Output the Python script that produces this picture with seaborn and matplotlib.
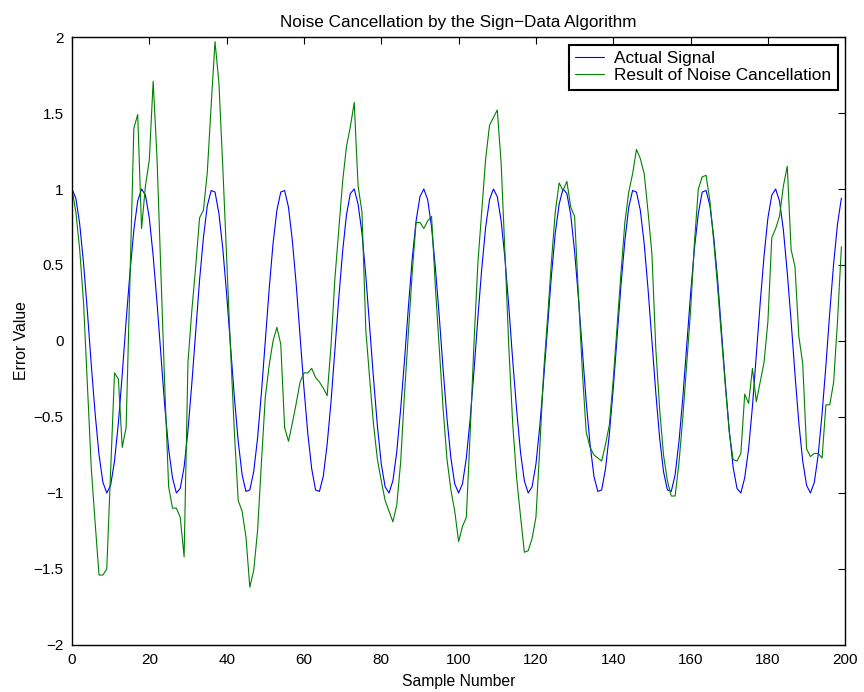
import numpy as np
import pandas as pd
import matplotlib
matplotlib.use("Agg")
import matplotlib.pyplot as plt
from matplotlib.ticker import FuncFormatter, MultipleLocator
import seaborn as sns

# Data (samples 0..199)
sample_number = list(range(200))

actual_signal = [
    1.00, 0.94, 0.77, 0.51, 0.19, -0.16, -0.48, -0.75, -0.93, -1.00,
    -0.95, -0.79, -0.54, -0.22, 0.13, 0.45, 0.73, 0.92, 1.00, 0.96,
    0.81, 0.56, 0.25, -0.09, -0.43, -0.71, -0.90, -1.00, -0.97, -0.83,
    -0.59, -0.28, 0.06, 0.40, 0.68, 0.89, 0.99, 0.98, 0.84, 0.61,
    0.31, -0.03, -0.37, -0.66, -0.88, -0.99, -0.98, -0.86, -0.64, -0.34,
    0.00, 0.34, 0.64, 0.86, 0.98, 0.99, 0.88, 0.66, 0.37, 0.03,
    -0.31, -0.61, -0.84, -0.98, -0.99, -0.89, -0.68, -0.40, -0.06, 0.28,
    0.59, 0.83, 0.97, 1.00, 0.90, 0.71, 0.43, 0.09, -0.25, -0.56,
    -0.81, -0.96, -1.00, -0.92, -0.73, -0.45, -0.13, 0.22, 0.54, 0.79,
    0.95, 1.00, 0.93, 0.75, 0.48, 0.16, -0.19, -0.51, -0.77, -0.94,
    -1.00, -0.94, -0.77, -0.51, -0.19, 0.16, 0.48, 0.75, 0.93, 1.00,
    0.95, 0.79, 0.54, 0.22, -0.13, -0.45, -0.73, -0.92, -1.00, -0.96,
    -0.81, -0.56, -0.25, 0.09, 0.43, 0.71, 0.90, 1.00, 0.97, 0.83,
    0.59, 0.28, -0.06, -0.40, -0.68, -0.89, -0.99, -0.98, -0.84, -0.61,
    -0.31, 0.03, 0.37, 0.66, 0.88, 0.99, 0.98, 0.86, 0.64, 0.34,
    0.00, -0.34, -0.64, -0.86, -0.98, -0.99, -0.88, -0.66, -0.37, -0.03,
    0.31, 0.61, 0.84, 0.98, 0.99, 0.89, 0.68, 0.40, 0.06, -0.28,
    -0.59, -0.83, -0.97, -1.00, -0.90, -0.71, -0.43, -0.09, 0.25, 0.56,
    0.81, 0.96, 1.00, 0.92, 0.73, 0.45, 0.13, -0.22, -0.54, -0.79,
    -0.95, -1.00, -0.93, -0.75, -0.48, -0.16, 0.19, 0.51, 0.77, 0.94,
]

noise_cancelled = [
    1.00, 0.85, 0.60, 0.25, -0.30, -0.84, -1.20, -1.54, -1.54, -1.50,
    -0.86, -0.21, -0.25, -0.70, -0.57, 0.40, 1.40, 1.49, 0.74, 1.02,
    1.19, 1.71, 1.20, 0.45, -0.30, -0.96, -1.10, -1.10, -1.16, -1.42,
    -0.14, 0.20, 0.49, 0.81, 0.86, 1.11, 1.55, 1.97, 1.70, 1.15,
    0.55, -0.05, -0.60, -1.05, -1.12, -1.29, -1.62, -1.51, -1.25, -0.80,
    -0.37, -0.16, 0.00, 0.09, -0.02, -0.57, -0.66, -0.54, -0.41, -0.27,
    -0.21, -0.21, -0.18, -0.24, -0.27, -0.31, -0.36, -0.03, 0.41, 0.73,
    1.05, 1.28, 1.41, 1.57, 1.02, 0.85, 0.07, -0.25, -0.55, -0.78,
    -0.92, -1.05, -1.12, -1.19, -1.08, -0.80, -0.35, 0.05, 0.45, 0.78,
    0.78, 0.74, 0.79, 0.82, 0.35, -0.05, -0.45, -0.78, -0.98, -1.12,
    -1.32, -1.22, -1.16, -0.60, 0.00, 0.52, 0.86, 1.20, 1.42, 1.47,
    1.52, 1.17, 0.57, -0.05, -0.55, -0.90, -1.15, -1.39, -1.38, -1.30,
    -1.16, -0.70, -0.20, 0.15, 0.52, 0.85, 1.04, 0.99, 1.05, 0.88,
    0.82, 0.30, -0.20, -0.60, -0.70, -0.75, -0.77, -0.79, -0.68, -0.55,
    -0.25, 0.10, 0.45, 0.78, 0.98, 1.10, 1.26, 1.20, 1.10, 0.85,
    0.57, -0.05, -0.45, -0.75, -0.92, -1.02, -1.02, -0.80, -0.50, -0.15,
    0.20, 0.65, 1.00, 1.08, 1.09, 0.92, 0.65, 0.35, 0.02, -0.30,
    -0.60, -0.78, -0.79, -0.74, -0.35, -0.41, -0.18, -0.40, -0.27, -0.14,
    0.13, 0.68, 0.74, 0.82, 1.02, 1.15, 0.60, 0.49, 0.03, -0.15,
    -0.71, -0.76, -0.74, -0.74, -0.77, -0.42, -0.42, -0.27, 0.13, 0.62,
]

series_names = ["Actual Signal", "Result of Noise Cancellation"]
series_colors = {"Actual Signal": (0, 0, 1), "Result of Noise Cancellation": (0, 0.5, 0)}

df = pd.DataFrame({
    "Sample Number": sample_number * 2,
    "Error Value": actual_signal + noise_cancelled,
    "series": [series_names[0]] * 200 + [series_names[1]] * 200,
})

sns.set_style("white")
plt.rcParams["font.family"] = ["Liberation Sans", "DejaVu Sans"]
plt.rcParams["font.size"] = 11
plt.rcParams["axes.unicode_minus"] = True
plt.rcParams["text.color"] = "black"
plt.rcParams["axes.labelcolor"] = "black"

fig = plt.figure(figsize=(8.64, 6.92), dpi=100)
ax = fig.add_axes([0.0833, 0.068, 0.895, 0.8785])

sns.lineplot(data=df, x="Sample Number", y="Error Value", hue="series",
             hue_order=series_names, palette=series_colors, estimator=None,
             linewidth=0.8, ax=ax)

ax.set_xlim(0, 200)
ax.set_ylim(-2, 2)
ax.xaxis.set_major_locator(MultipleLocator(20))
ax.yaxis.set_major_locator(MultipleLocator(0.5))
fmt = FuncFormatter(lambda v, p: ("%g" % v).replace("-", "\u2212"))
ax.xaxis.set_major_formatter(fmt)
ax.yaxis.set_major_formatter(fmt)
ax.tick_params(direction="in", top=True, right=True, length=5, width=0.8,
               colors="black", labelsize=11, pad=6)
for s in ax.spines.values():
    s.set_visible(True)
    s.set_color("black")
    s.set_linewidth(1.0)

ax.set_title("Noise Cancellation by the Sign\u2212Data Algorithm", fontsize=12.3,
             pad=7, color="black")
ax.set_xlabel("Sample Number", fontsize=11.3, labelpad=5)
ax.set_ylabel("Error Value", fontsize=11.3, labelpad=3)

leg = ax.legend(loc="upper right", fontsize=12.4, frameon=True, fancybox=False,
                framealpha=1, edgecolor="black", handlelength=1.7,
                borderpad=0.35, labelspacing=0.15, handletextpad=0.6,
                borderaxespad=0.45)
leg.get_frame().set_linewidth(1.5)
for line in leg.get_lines():
    line.set_linewidth(0.8)
for t in leg.get_texts():
    t.set_color("black")

fig.savefig("out.png", dpi=100)
